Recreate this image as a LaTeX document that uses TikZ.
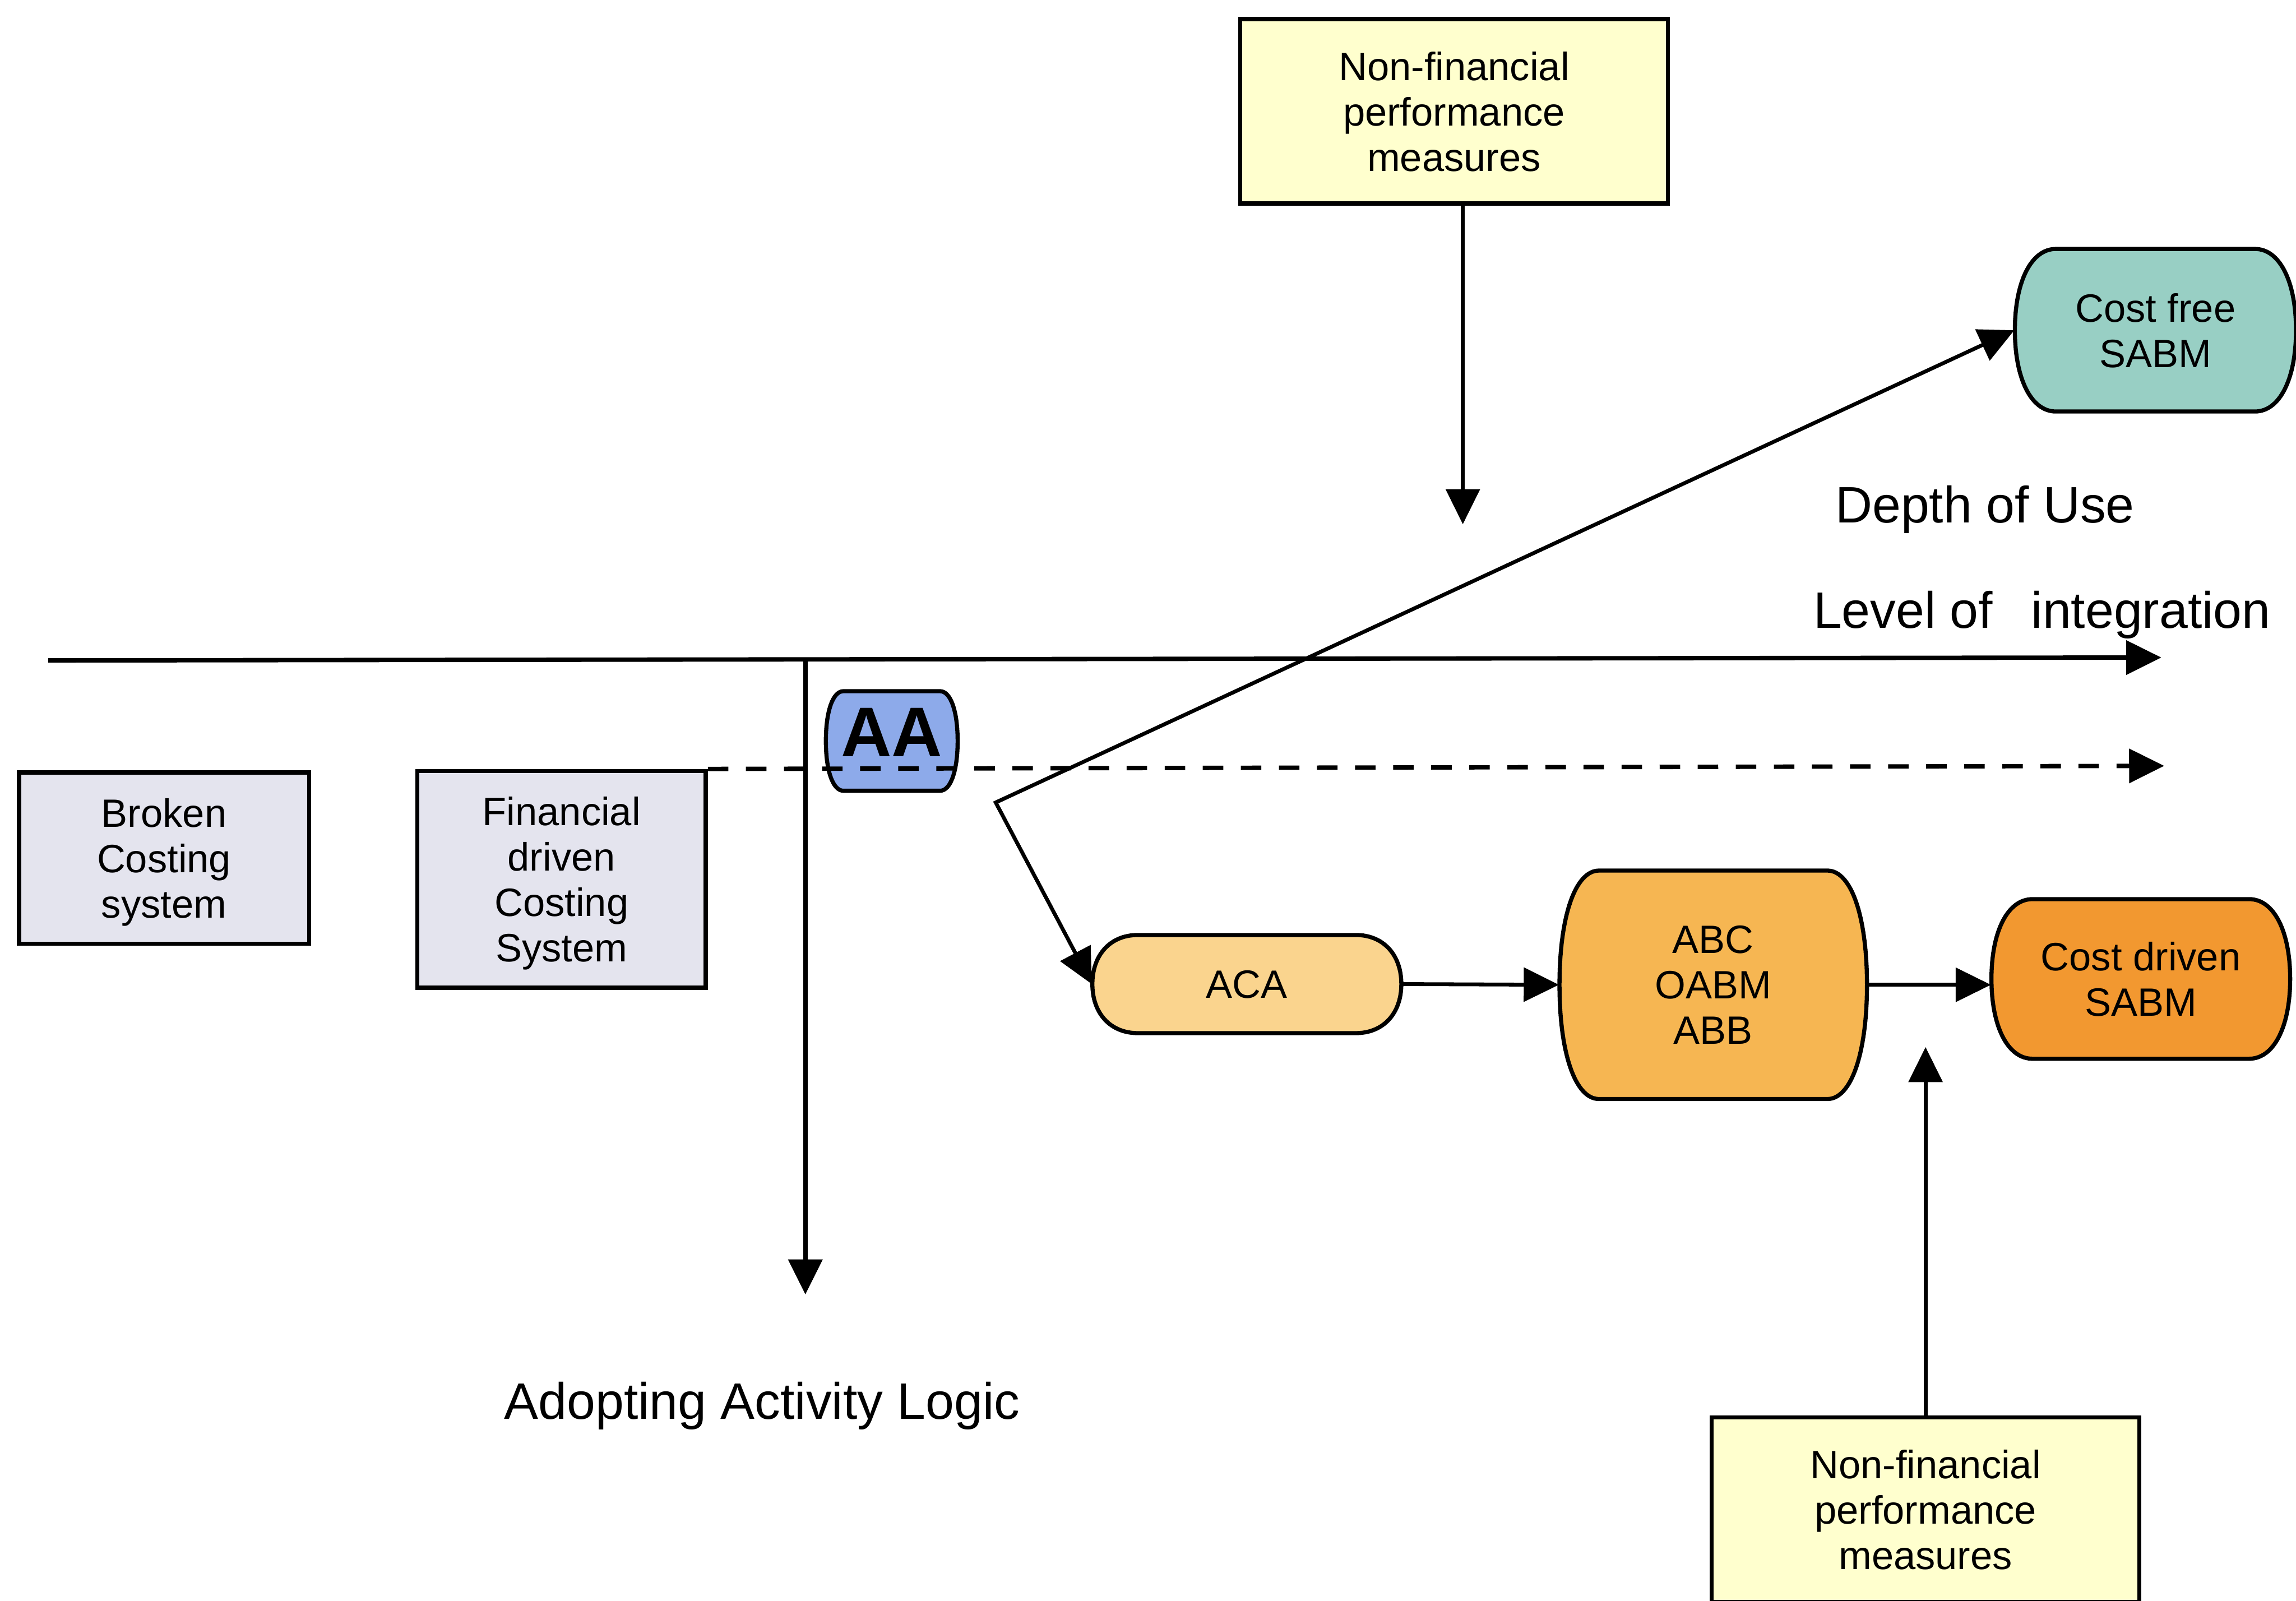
\documentclass[tikz,border=0pt]{standalone}
\usepackage{fontspec}
\setmainfont{Liberation Sans}
\usetikzlibrary{arrows.meta}
\definecolor{nfyellow}{RGB}{255,255,206}
\definecolor{oldgray}{RGB}{228,228,238}
\definecolor{cfteal}{RGB}{152,207,196}
\definecolor{aablue}{RGB}{141,170,234}
\definecolor{acaorange}{RGB}{250,212,142}
\definecolor{abcorange}{RGB}{246,182,82}
\definecolor{cdorange}{RGB}{242,152,48}

% Outline of a stage: flat top and bottom, half-elliptic left and right ends.
% #1,#2 centre, #3 width, #4 height, #5 depth of the rounded ends, #6 fill
\newcommand\stageshape[6]{%
  \pgfmathsetmacro\sxl{#1-#3/2}\pgfmathsetmacro\sxr{#1+#3/2}%
  \pgfmathsetmacro\syt{#2-#4/2}\pgfmathsetmacro\syb{#2+#4/2}%
  \pgfmathsetmacro\sxli{\sxl+#5}\pgfmathsetmacro\sxri{\sxr-#5}%
  \pgfmathsetmacro\skx{0.6*#5}\pgfmathsetmacro\sky{0.6*#4/2}%
  \filldraw[fill=#6, draw=black, line width=1.4pt, line join=round]
    (\sxli,\syt) -- (\sxri,\syt)
    .. controls (\sxri+\skx,\syt) and (\sxr,#2-\sky) .. (\sxr,#2)
    .. controls (\sxr,#2+\sky) and (\sxri+\skx,\syb) .. (\sxri,\syb)
    -- (\sxli,\syb)
    .. controls (\sxli-\skx,\syb) and (\sxl,#2+\sky) .. (\sxl,#2)
    .. controls (\sxl,#2-\sky) and (\sxli-\skx,\syt) .. (\sxli,\syt) -- cycle;
}

\begin{document}
\begin{tikzpicture}[x=0.5pt,y=-0.5pt,
  txt/.style={font=\fontsize{13.5pt}{15.5pt}\selectfont, align=center, inner sep=0pt, text depth=0pt},
  sqbox/.style={txt, draw=black, line width=1.4pt, rectangle},
  stage/.style={txt, rectangle},
  tip/.style={-{Triangle[length=12pt,width=11.5pt]}},
  conn/.style={line width=1.3pt, tip},
  axis/.style={line width=1.5pt, tip},
  lbl/.style={font=\fontsize{17.5pt}{20pt}\selectfont, inner sep=0pt, anchor=base west}]

\useasboundingbox (0,0) rectangle (1568,1093);
\fill[white] (0,0) rectangle (1568,1093);

% measures feeding in from above and below
\node[sqbox, fill=nfyellow, minimum width=146pt, minimum height=63pt] (nf1) at (993,76) {Non-financial\\performance\\measures};
\node[sqbox, fill=nfyellow, minimum width=146pt, minimum height=63pt] (nf2) at (1315,1031) {Non-financial\\performance\\measures};

% legacy costing systems
\node[sqbox, fill=oldgray, minimum width=99pt, minimum height=58.5pt] (broken) at (112,586) {Broken\\Costing\\system};
\node[sqbox, fill=oldgray, minimum width=98.5pt, minimum height=74pt] (fin) at (383.5,600.5) {Financial\\driven\\Costing\\System};

% activity-based stages
\stageshape{609}{506}{90}{68}{12}{aablue}
\node[stage, font=\fontsize{24pt}{24pt}\selectfont\bfseries] (aa) at (609,500) {AA};
\stageshape{851.5}{672}{211}{67}{31}{acaorange}
\node[stage, minimum width=105.5pt, minimum height=33.5pt] (aca) at (851.5,672) {ACA};
\stageshape{1170}{672.5}{210}{156}{27}{abcorange}
\node[stage, minimum width=105pt, minimum height=78pt] (abc) at (1170,672.5) {ABC\\OABM\\ABB};
\stageshape{1462}{668.5}{204}{109}{28}{cdorange}
\node[stage, minimum width=102pt, minimum height=54.5pt] (cd) at (1462,668.5) {Cost driven\\SABM};
\stageshape{1472}{225.5}{192}{111}{28}{cfteal}
\node[stage, minimum width=96pt, minimum height=55.5pt] (cf) at (1472,225.5) {Cost free\\SABM};

% axis labels
\node[lbl] (depth) at (1253,357) {Depth of Use};
\node[lbl] (level) at (1238,429) {Level of\hspace{0.75em}integration};
\node[lbl] (adopt) at (344,969) {Adopting Activity Logic};

% axes
\coordinate (axL) at (33,451);
\coordinate (axR) at (1476,449);
\coordinate (axO) at (550,451);
\coordinate (axD) at (550,884);
\coordinate (dashE) at (1478,523);
\coordinate (vtx) at (680,548);
\coordinate (nf1tip) at (999,358);
\coordinate (nf2tip) at (1315,715);

\draw[axis] (axL) -- (axR);
\draw[axis] (axO) -- (axD);
\draw[axis, dash pattern=on 7pt off 6pt] (fin.north east) -- (dashE);

% connectors
\draw[conn, {Triangle[length=12pt,width=11.5pt]}-{Triangle[length=12pt,width=11.5pt]}] (aca.west) -- (vtx) -- (cf.west);
\draw[conn] (nf1.south -| nf1tip) -- (nf1tip);
\draw[conn] (nf2.north) -- (nf2tip);
\draw[conn] (aca.east) -- (abc.west);
\draw[conn] (abc.east) -- (abc.east -| cd.west);
\end{tikzpicture}
\end{document}
